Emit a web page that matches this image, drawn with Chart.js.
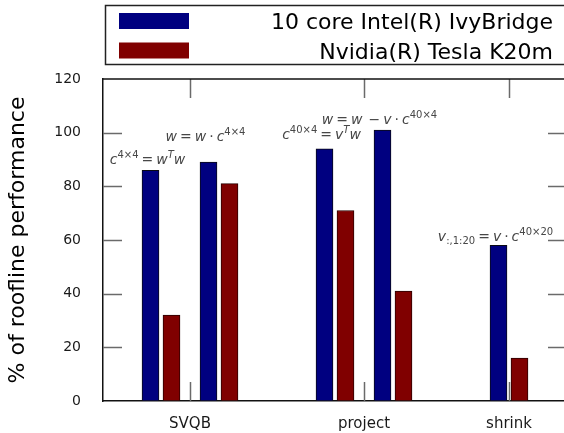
<!DOCTYPE html>
<html>
<head>
<meta charset="utf-8">
<script src="https://cdn.jsdelivr.net/npm/chart.js@4/dist/chart.umd.min.js"></script>
<style>
  html, body { margin: 0; padding: 0; overflow: hidden; background: #fff; }
  #wrap { position: relative; width: 568px; height: 433px; }
</style>
</head>
<body>
<div id="wrap"><canvas id="chart" width="568" height="433"></canvas></div>
<script>
// Kernel groups and where they sit on the x axis (axis units)
const groups = ['SVQB', 'project', 'shrink'];
const groupPos = [2, 8, 13];
const kernelPos = [1, 3, 7, 9, 13];

// % of roofline performance per kernel
const intelIvyBridge = [86, 89, 94, 101, 58];
const teslaK20m = [32, 81, 71, 41, 16];

// Formula written above each kernel, and the height (in %) of its baseline
const kernelFormulas = [
  'c^{4×4} = w^{T}w',
  'w = w · c^{4×4}',
  'c^{40×4} = v^{T}w',
  'w = w  − v · c^{40×4}',
  'v_{:,1:20} = v · c^{40×20}'
];
const formulaLevel = [88.2, 97, 97.6, 103.2, 59.5];

const yTicks = [0, 20, 40, 60, 80, 100, 120];
const seriesNames = ['10 core Intel(R) IvyBridge', 'Nvidia(R) Tesla K20m'];

const BAR_SHIFT = 0.362;   // half the distance between the two bars of a kernel
const FONT = "'DejaVu Sans'";

const intelPoints = kernelPos.map((p, i) => ({ x: p - BAR_SHIFT, y: intelIvyBridge[i] }));
const teslaPoints = kernelPos.map((p, i) => ({ x: p + BAR_SHIFT, y: teslaK20m[i] }));

function line(ctx, x1, y1, x2, y2) {
  ctx.beginPath(); ctx.moveTo(x1, y1); ctx.lineTo(x2, y2); ctx.stroke();
}

// Split "a^{b}c_{d}" into plain / superscript / subscript runs
function parseFormula(s) {
  const runs = [];
  let i = 0;
  while (i < s.length) {
    if ((s[i] === '^' || s[i] === '_') && s[i + 1] === '{') {
      const j = s.indexOf('}', i);
      runs.push({ text: s.slice(i + 2, j), mode: s[i] === '^' ? 'sup' : 'sub' });
      i = j + 1;
    } else {
      let j = i;
      while (j < s.length && !((s[j] === '^' || s[j] === '_') && s[j + 1] === '{')) j++;
      runs.push({ text: s.slice(i, j), mode: 'n' });
      i = j;
    }
  }
  return runs;
}

function glyphs(runs) {
  const out = [];
  runs.forEach(r => {
    const size = r.mode === 'n' ? 14 : 10;
    const dy = r.mode === 'sup' ? -6 : (r.mode === 'sub' ? 3 : 0);
    for (const ch of r.text) {
      const italic = /[a-zA-Z]/.test(ch);
      out.push({ ch, font: (italic ? 'italic ' : '') + size + 'px ' + FONT, dy, space: ch === ' ' ? (r.mode === 'n' ? 3 : 2) : 0 });
    }
  });
  return out;
}

function drawFormula(ctx, text, cx, baseline) {
  const gs = glyphs(parseFormula(text));
  let w = 0;
  gs.forEach(g => {
    ctx.font = g.font;
    g.w = g.space || ctx.measureText(g.ch).width;
    w += g.w;
  });
  let x = cx - w / 2;
  gs.forEach(g => {
    if (!g.space) {
      ctx.font = g.font;
      ctx.fillText(g.ch, x, baseline + g.dy);
    }
    x += g.w;
  });
}

const framePlugin = {
  id: 'frame',
  afterDatasetsDraw(chart) {
    const { ctx, chartArea: a, scales: { x, y } } = chart;
    ctx.save();
    // inward tick marks on all four sides
    ctx.strokeStyle = '#6a6a6a';
    ctx.lineWidth = 1.5;
    y.ticks.forEach(t => {
      if (t.value <= y.min || t.value >= y.max) return;
      const py = Math.round(y.getPixelForValue(t.value)) + 0.5;
      line(ctx, a.left, py, a.left + 19, py);
      line(ctx, a.right - 19, py, a.right, py);
    });
    x.ticks.forEach(t => {
      const px = Math.round(x.getPixelForValue(t.value)) + 0.5;
      line(ctx, px, a.bottom, px, a.bottom - 19);
      line(ctx, px, a.top, px, a.top + 19);
    });
    // top and right edges of the plot box
    ctx.strokeStyle = '#111';
    ctx.lineWidth = 1.5;
    line(ctx, a.left, a.top, a.right, a.top);
    line(ctx, a.right, a.top, a.right, a.bottom);

    // formulas above each kernel
    ctx.fillStyle = '#474747';
    ctx.textBaseline = 'alphabetic';
    ctx.textAlign = 'left';
    kernelFormulas.forEach((f, i) => {
      const cx = x.getPixelForValue(kernelPos[i] - BAR_SHIFT) - 3;
      const by = y.getPixelForValue(formulaLevel[i]);
      drawFormula(ctx, f, cx, by);
    });
    ctx.restore();
  },
  afterDraw(chart) {
    // legend box: swatches on the left, names right-aligned
    const { ctx } = chart;
    ctx.save();
    ctx.strokeStyle = '#222';
    ctx.lineWidth = 1.5;
    ctx.strokeRect(105.5, 5.5, 480, 59);
    ctx.font = '22px ' + FONT;
    ctx.textAlign = 'right';
    ctx.textBaseline = 'alphabetic';
    chart.data.datasets.forEach((ds, i) => {
      const top = 13 + i * 29.5;
      ctx.fillStyle = ds.backgroundColor;
      ctx.fillRect(119, top, 70, 16);
      ctx.fillStyle = '#000';
      ctx.fillText(ds.label, 553, top + 16);
    });
    ctx.restore();
  }
};

new Chart(document.getElementById('chart'), {
  type: 'bar',
  data: {
    datasets: [
      {
        label: seriesNames[0],
        data: intelPoints,
        backgroundColor: '#000080',
        borderColor: '#0a0a14',
        borderWidth: 1,
        barThickness: 17,
        grouped: false
      },
      {
        label: seriesNames[1],
        data: teslaPoints,
        backgroundColor: '#800000',
        borderColor: '#2a0000',
        borderWidth: 1,
        barThickness: 17,
        grouped: false
      }
    ]
  },
  options: {
    responsive: false,
    animation: false,
    devicePixelRatio: 1,
    events: [],
    layout: { padding: { top: 79, right: 1, left: 0, bottom: 0 } },
    plugins: { legend: { display: false }, tooltip: { enabled: false } },
    scales: {
      x: {
        type: 'linear',
        min: -1,
        max: 15,
        offset: false,
        afterBuildTicks: s => { s.ticks = groupPos.map(v => ({ value: v })); },
        afterFit: s => { s.height = 32; },
        ticks: {
          autoSkip: false,
          maxRotation: 0,
          padding: 14,
          color: '#1a1a1a',
          font: { family: FONT, size: 15 },
          callback: v => groups[groupPos.indexOf(v)] ?? ''
        },
        grid: { drawOnChartArea: false, drawTicks: false, color: 'rgba(0,0,0,0)' },
        border: { display: true, color: '#111', width: 1.5 }
      },
      y: {
        min: 0,
        max: 120,
        afterBuildTicks: s => { s.ticks = yTicks.map(v => ({ value: v })); },
        afterFit: s => { s.width = 103; },
        ticks: {
          padding: 22,
          color: '#1a1a1a',
          font: { family: FONT, size: 14 }
        },
        grid: { drawOnChartArea: false, drawTicks: false, color: 'rgba(0,0,0,0)' },
        border: { display: true, color: '#111', width: 1.5 },
        title: {
          display: true,
          text: '% of roofline performance',
          color: '#000',
          font: { family: FONT, size: 22 },
          padding: { top: 5, bottom: 0 }
        }
      }
    }
  },
  plugins: [framePlugin]
});
</script>
</body>
</html>
